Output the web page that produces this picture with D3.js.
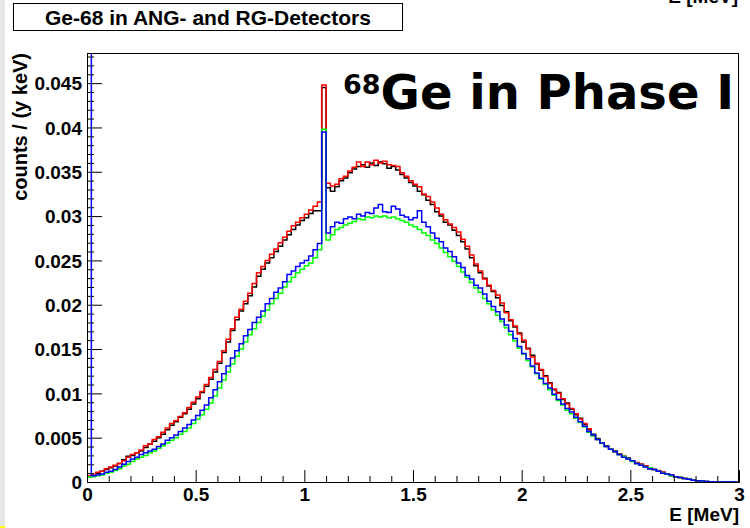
<!DOCTYPE html>
<html>
<head>
<meta charset="utf-8">
<script src="https://cdnjs.cloudflare.com/ajax/libs/d3/7.8.5/d3.min.js"></script>
<style>
  body { margin: 0; background: #fff; }
  svg { display: block; }
  text { font-family: "Liberation Sans", Arial, Helvetica, sans-serif; font-weight: bold; }
</style>
</head>
<body>
<div id="chart"></div>
<script>
/** Ge-68 spectrum, four detector histograms, 20 keV bins from 0 to 3 MeV. */

var eMin = 0, eMax = 3, binWidth = 0.02;

var xTicks = [0, 0.5, 1, 1.5, 2, 2.5, 3];
var yTicks = [0, 0.005, 0.01, 0.015, 0.02, 0.025, 0.03, 0.035, 0.04, 0.045];

var countsBlack = [
  0.0006,0.0008,0.0010,0.0012,0.0014,0.0016,0.0018,0.0021,0.0025,0.0029,
  0.0030,0.0033,0.0035,0.0039,0.0043,0.0046,0.0050,0.0054,0.0059,0.0064,
  0.0068,0.0073,0.0077,0.0082,0.0088,0.0094,0.0101,0.0108,0.0116,0.0124,
  0.0134,0.0146,0.0158,0.0171,0.0183,0.0193,0.0201,0.0210,0.0220,0.0232,
  0.0240,0.0247,0.0253,0.0260,0.0266,0.0273,0.0279,0.0285,0.0290,0.0295,
  0.0298,0.0303,0.0306,0.0306,0.0445,0.0332,0.0328,0.0333,0.0340,0.0343,
  0.0349,0.0353,0.0356,0.0358,0.0355,0.0360,0.0357,0.0361,0.0359,0.0354,
  0.0356,0.0352,0.0347,0.0343,0.0338,0.0334,0.0328,0.0324,0.0318,0.0313,
  0.0305,0.0300,0.0293,0.0290,0.0284,0.0278,0.0271,0.0263,0.0253,0.0244,
  0.0236,0.0230,0.0221,0.0215,0.0208,0.0199,0.0192,0.0182,0.0175,0.0168,
  0.0158,0.0151,0.0143,0.0133,0.0126,0.0120,0.0112,0.0104,0.0101,0.0093,
  0.0089,0.0082,0.0076,0.0072,0.0065,0.0059,0.0054,0.0049,0.0044,0.0041,
  0.0037,0.0035,0.0031,0.0029,0.0027,0.0024,0.0021,0.0020,0.0018,0.0015,
  0.0014,0.0012,0.0011,0.0009,0.0007,0.0006,0.0005,0.0004,0.0003,0.0002,
  0.00015,0.0001,0.00005,0.00003,0.00001,0,0,0,0,0
];

var countsRed = [
  0.0007,0.0008,0.0011,0.0012,0.0015,0.0017,0.0019,0.0021,0.0024,0.0028,
  0.0031,0.0033,0.0036,0.0041,0.0043,0.0048,0.0051,0.0056,0.0061,0.0066,
  0.0069,0.0074,0.0078,0.0084,0.0090,0.0096,0.0102,0.0110,0.0118,0.0127,
  0.0136,0.0148,0.0161,0.0173,0.0186,0.0195,0.0204,0.0213,0.0224,0.0236,
  0.0243,0.0250,0.0257,0.0263,0.0270,0.0276,0.0283,0.0289,0.0293,0.0298,
  0.0302,0.0307,0.0311,0.0316,0.0448,0.0337,0.0334,0.0336,0.0342,0.0345,
  0.0351,0.0355,0.0361,0.0356,0.0361,0.0358,0.0363,0.0360,0.0362,0.0358,
  0.0357,0.0356,0.0349,0.0345,0.0340,0.0336,0.0333,0.0325,0.0322,0.0316,
  0.0309,0.0302,0.0296,0.0291,0.0287,0.0282,0.0274,0.0266,0.0256,0.0246,
  0.0238,0.0229,0.0222,0.0216,0.0211,0.0202,0.0191,0.0183,0.0176,0.0167,
  0.0160,0.0150,0.0141,0.0134,0.0127,0.0119,0.0111,0.0105,0.0100,0.0094,
  0.0088,0.0083,0.0077,0.0071,0.0066,0.0060,0.0053,0.0048,0.0044,0.0040,
  0.0037,0.0034,0.0032,0.0029,0.0026,0.0024,0.0022,0.0020,0.0018,0.0016,
  0.0014,0.0013,0.0011,0.0009,0.0008,0.0006,0.0005,0.0004,0.0003,0.0002,
  0.00015,0.0001,0.00006,0.00003,0.00001,0,0,0,0,0
];

var countsGreen = [
  0.0006,0.0006,0.0007,0.0008,0.0010,0.0011,0.0013,0.0015,0.0018,0.0020,
  0.0023,0.0026,0.0028,0.0030,0.0033,0.0035,0.0038,0.0041,0.0044,0.0047,
  0.0050,0.0054,0.0057,0.0061,0.0066,0.0071,0.0076,0.0082,0.0089,0.0097,
  0.0106,0.0115,0.0124,0.0133,0.0142,0.0150,0.0158,0.0166,0.0173,0.0180,
  0.0187,0.0194,0.0201,0.0207,0.0213,0.0220,0.0226,0.0231,0.0236,0.0240,
  0.0244,0.0247,0.0253,0.0262,0.0398,0.0273,0.0279,0.0285,0.0287,0.0290,
  0.0292,0.0294,0.0297,0.0296,0.0299,0.0298,0.0300,0.0299,0.0300,0.0298,
  0.0299,0.0297,0.0295,0.0293,0.0290,0.0288,0.0285,0.0281,0.0278,0.0273,
  0.0269,0.0264,0.0259,0.0254,0.0249,0.0243,0.0237,0.0231,0.0225,0.0219,
  0.0214,0.0207,0.0201,0.0194,0.0188,0.0181,0.0174,0.0166,0.0159,0.0151,
  0.0144,0.0137,0.0130,0.0122,0.0116,0.0110,0.0104,0.0098,0.0092,0.0087,
  0.0081,0.0077,0.0072,0.0067,0.0062,0.0056,0.0052,0.0048,0.0044,0.0040,
  0.0037,0.0034,0.0031,0.0029,0.0026,0.0023,0.0021,0.0019,0.0017,0.0016,
  0.0014,0.0012,0.0010,0.0009,0.0007,0.0006,0.0005,0.0004,0.0003,0.0002,
  0.00015,0.0001,0.00006,0.00003,0.00001,0,0,0,0,0
];

// first bin of the blue histogram is far off scale (clipped by the frame)
var countsBlue = [
  0.0800,0.0007,0.0008,0.0009,0.0011,0.0012,0.0014,0.0017,0.0020,0.0023,
  0.0026,0.0028,0.0031,0.0033,0.0035,0.0037,0.0040,0.0043,0.0047,0.0050,
  0.0053,0.0057,0.0061,0.0065,0.0070,0.0075,0.0081,0.0087,0.0095,0.0104,
  0.0113,0.0122,0.0131,0.0140,0.0148,0.0156,0.0165,0.0172,0.0180,0.0186,
  0.0193,0.0201,0.0207,0.0214,0.0219,0.0226,0.0234,0.0238,0.0243,0.0247,
  0.0250,0.0255,0.0262,0.0269,0.0395,0.0281,0.0288,0.0293,0.0292,0.0297,
  0.0299,0.0297,0.0302,0.0300,0.0304,0.0303,0.0309,0.0313,0.0305,0.0304,
  0.0311,0.0308,0.0301,0.0299,0.0296,0.0298,0.0306,0.0293,0.0288,0.0281,
  0.0275,0.0271,0.0264,0.0260,0.0254,0.0247,0.0242,0.0233,0.0229,0.0222,
  0.0219,0.0212,0.0204,0.0198,0.0192,0.0184,0.0177,0.0170,0.0162,0.0153,
  0.0145,0.0139,0.0131,0.0123,0.0117,0.0111,0.0106,0.0099,0.0093,0.0088,
  0.0083,0.0079,0.0073,0.0068,0.0063,0.0057,0.0053,0.0048,0.0044,0.0040,
  0.0037,0.0034,0.0031,0.0028,0.0026,0.0024,0.0021,0.0019,0.0017,0.0015,
  0.0014,0.0012,0.0010,0.0009,0.0008,0.0006,0.0005,0.0004,0.0003,0.0002,
  0.00015,0.0001,0.00005,0.00003,0.00001,0,0,0,0,0
];

// drawing order: later ones end up on top
var histos = [
  {name: "black", color: "#000000", values: countsBlack},
  {name: "red",   color: "#ff0000", values: countsRed},
  {name: "green", color: "#00ff00", values: countsGreen},
  {name: "blue",  color: "#0000ff", values: countsBlue}
];

var W = 750, H = 528;
var frame = {left: 87, right: 739, top: 53, bottom: 482};
var yMax = 0.0484;

var svg = d3.select("#chart").append("svg")
    .attr("width", W)
    .attr("height", H);

svg.append("rect").attr("width", W).attr("height", H).attr("fill", "#fff");
// grey strip of the canvas at the left edge, little yellow bit at the bottom
svg.append("rect").attr("x", 0).attr("y", 0).attr("width", 5).attr("height", H).attr("fill", "#e6e6e6");
svg.append("rect").attr("x", 0).attr("y", H - 2).attr("width", 5).attr("height", 2).attr("fill", "#ffff00");

var xScale = d3.scaleLinear().domain([eMin, eMax]).range([frame.left, frame.right]);
var yScale = d3.scaleLinear().domain([0, yMax]).range([frame.bottom, frame.top]);

svg.append("clipPath").attr("id", "frameClip")
  .append("rect")
    .attr("x", frame.left).attr("y", frame.top)
    .attr("width", frame.right - frame.left)
    .attr("height", frame.bottom - frame.top);

// histogram outlines, step style as in ROOT "HIST"
var line = d3.line()
    .x(function(d) { return xScale(d.e); })
    .y(function(d) { return yScale(d.v); })
    .curve(d3.curveStepAfter);

var gHist = svg.append("g").attr("clip-path", "url(#frameClip)");
histos.forEach(function(h) {
    var pts = [{e: eMin, v: 0}];
    h.values.forEach(function(v, i) {
        pts.push({e: eMin + i * binWidth, v: v});
    });
    pts.push({e: eMin + h.values.length * binWidth, v: h.values[h.values.length - 1]});
    gHist.append("path")
        .datum(pts)
        .attr("fill", "none")
        .attr("stroke", h.color)
        .attr("stroke-width", 1.5)
        .attr("d", line);
});

// frame
svg.append("rect")
    .attr("x", frame.left + 0.5).attr("y", frame.top + 0.5)
    .attr("width", frame.right - frame.left - 1)
    .attr("height", frame.bottom - frame.top)
    .attr("fill", "none")
    .attr("stroke", "#000")
    .attr("stroke-width", 1);

var fmt = function(d) { return String(+d.toFixed(3)); };

// minor ticks
var xMinor = d3.range(0, 31).map(function(i) { return i / 10; })
    .filter(function(d) { return xTicks.indexOf(d) < 0; });
var yMinor = d3.range(0, 49).map(function(i) { return i / 1000; })
    .filter(function(d) { return yTicks.indexOf(+d.toFixed(3)) < 0; });

var xAxis = svg.append("g")
    .attr("transform", "translate(0," + frame.bottom + ")")
    .call(d3.axisBottom(xScale).tickValues(xTicks).tickFormat(fmt)
        .tickSizeInner(-12).tickSizeOuter(0).tickPadding(6));
svg.append("g")
    .attr("transform", "translate(0," + frame.bottom + ")")
    .call(d3.axisBottom(xScale).tickValues(xMinor).tickFormat("")
        .tickSizeInner(-6).tickSizeOuter(0));

var yAxis = svg.append("g")
    .attr("transform", "translate(" + frame.left + ",0)")
    .call(d3.axisLeft(yScale).tickValues(yTicks).tickFormat(fmt)
        .tickSizeInner(-15).tickSizeOuter(0).tickPadding(5));
svg.append("g")
    .attr("transform", "translate(" + frame.left + ",0)")
    .call(d3.axisLeft(yScale).tickValues(yMinor).tickFormat("")
        .tickSizeInner(-7).tickSizeOuter(0));

svg.selectAll(".domain").attr("stroke", "#000");
svg.selectAll(".tick line").attr("stroke", "#000");
svg.selectAll(".tick text")
    .attr("fill", "#000")
    .style("font-family", '"Liberation Sans", Arial, sans-serif')
    .style("font-weight", "bold")
    .style("font-size", "19px");
yAxis.selectAll(".tick text").attr("dy", "0.36em");

// axis titles
svg.append("text")
    .attr("x", frame.right)
    .attr("y", 521)
    .attr("text-anchor", "end")
    .style("font-size", "19px")
    .text("E [MeV]");

svg.append("text")
    .attr("transform", "translate(27," + frame.top + ") rotate(-90)")
    .attr("text-anchor", "end")
    .style("font-size", "20px")
    .text("counts / (y keV)");

// cut-off axis title of the pad above
svg.append("text")
    .attr("x", 738)
    .attr("y", 3)
    .attr("text-anchor", "end")
    .style("font-size", "19px")
    .text("E [MeV]");

// title box
svg.append("rect")
    .attr("x", 13.5).attr("y", 3.5)
    .attr("width", 389).attr("height", 27)
    .attr("fill", "#fff")
    .attr("stroke", "#000");
svg.append("text")
    .attr("x", 208)
    .attr("y", 25)
    .attr("text-anchor", "middle")
    .style("font-size", "21px")
    .text("Ge-68 in ANG- and RG-Detectors");

// big label inside the frame
var big = svg.append("text")
    .attr("x", 343)
    .attr("y", 109)
    .style("font-family", '"DejaVu Sans", Verdana, sans-serif')
    .style("font-weight", "bold");
big.append("tspan").style("font-size", "27px").attr("dy", "-15").text("68");
big.append("tspan").style("font-size", "48px").attr("dy", "15").text("Ge in Phase I");
</script>
</body>
</html>
